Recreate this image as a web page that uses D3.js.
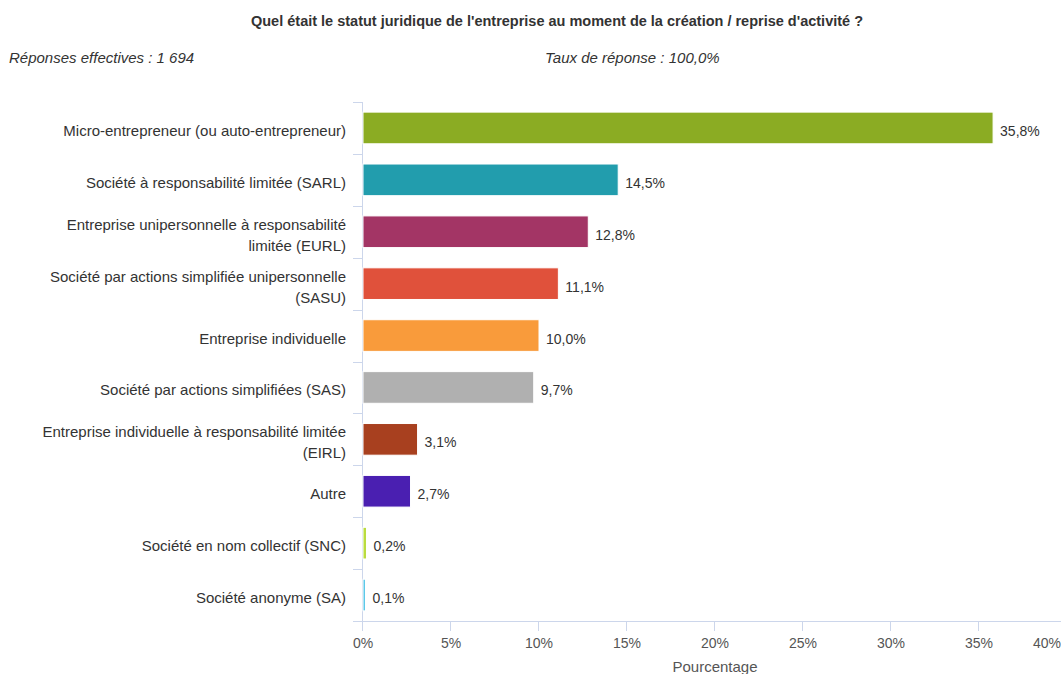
<!DOCTYPE html>
<html>
<head>
<meta charset="utf-8">
<script src="https://cdn.jsdelivr.net/npm/d3@7"></script>
<style>
  body { margin: 0; background: #fff; font-family: "Liberation Sans", Arial, sans-serif; }
  svg text { fill: #333; }
</style>
</head>
<body>
<div id="chart"></div>
<script>
// categories, values (%) and bar colours
var categories = [
  "Micro-entrepreneur (ou auto-entrepreneur)",
  "Société à responsabilité limitée (SARL)",
  "Entreprise unipersonnelle à responsabilité|limitée (EURL)",
  "Société par actions simplifiée unipersonnelle|(SASU)",
  "Entreprise individuelle",
  "Société par actions simplifiées (SAS)",
  "Entreprise individuelle à responsabilité limitée|(EIRL)",
  "Autre",
  "Société en nom collectif (SNC)",
  "Société anonyme (SA)"
];
var values = [35.8, 14.5, 12.8, 11.1, 10.0, 9.7, 3.1, 2.7, 0.2, 0.1];
var colors = ["#8bac23", "#229dad", "#a33565", "#e0513b", "#f99b3b",
              "#b0b0b0", "#a8401f", "#4a1fb1", "#badc3f", "#5cc9e9"];
var xTicks = [0, 5, 10, 15, 20, 25, 30, 35, 40];

var width = 1061,
    height = 674;
var margin = {top: 102, right: -6, bottom: 53, left: 363};

var svg = d3.select("#chart").append("svg")
    .attr("width", width)
    .attr("height", height);

//title and subtitles
svg.append("text")
    .attr("x", 557).attr("y", 26)
    .attr("text-anchor", "middle")
    .style("font-size", "14.5px").style("font-weight", "bold")
    .text("Quel était le statut juridique de l'entreprise au moment de la création / reprise d'activité ?");
svg.append("text")
    .attr("x", 9).attr("y", 63)
    .style("font-size", "15px").style("font-style", "italic")
    .text("Réponses effectives : 1 694");
svg.append("text")
    .attr("x", 545).attr("y", 63)
    .style("font-size", "15px").style("font-style", "italic")
    .text("Taux de réponse : 100,0%");

var x = d3.scaleLinear()
    .domain([0, 40])
    .range([margin.left, width - margin.right]);

var y = d3.scaleBand()
    .domain(categories)
    .range([margin.top, height - margin.bottom])
    .paddingInner(0.39)
    .paddingOuter(0.195);

var axisColor = "#ccd6eb";
var plotBottom = height - margin.bottom;

//y axis line + band ticks
svg.append("line")
    .attr("x1", margin.left - 0.5).attr("x2", margin.left - 0.5)
    .attr("y1", margin.top).attr("y2", plotBottom)
    .attr("stroke", axisColor);
var step = (plotBottom - margin.top) / categories.length;
svg.selectAll(".ytick")
    .data(d3.range(categories.length + 1))
    .enter().append("line")
    .attr("x1", margin.left - 10).attr("x2", margin.left)
    .attr("y1", function(d){ return Math.round(margin.top + d * step) + 0.5; })
    .attr("y2", function(d){ return Math.round(margin.top + d * step) + 0.5; })
    .attr("stroke", axisColor);

//x axis line + ticks
svg.append("line")
    .attr("x1", margin.left - 10).attr("x2", width)
    .attr("y1", plotBottom + 0.5).attr("y2", plotBottom + 0.5)
    .attr("stroke", axisColor);
svg.selectAll(".xtick")
    .data(xTicks)
    .enter().append("line")
    .attr("x1", function(d){ return Math.round(x(d)) - 0.5; })
    .attr("x2", function(d){ return Math.round(x(d)) - 0.5; })
    .attr("y1", plotBottom).attr("y2", plotBottom + 10)
    .attr("stroke", axisColor);
svg.selectAll(".xlabel")
    .data(xTicks)
    .enter().append("text")
    .attr("x", function(d){ return d === 40 ? width - 14 : x(d); })
    .attr("y", plotBottom + 27)
    .attr("text-anchor", "middle")
    .style("font-size", "14px")
    .style("fill", "#555")
    .text(function(d){ return d + "%"; });

svg.append("text")
    .attr("x", 715).attr("y", plotBottom + 51)
    .attr("text-anchor", "middle")
    .style("font-size", "15px")
    .style("fill", "#555")
    .text("Pourcentage");

//bars
svg.selectAll(".bar")
    .data(values)
    .enter().append("rect")
    .attr("x", x(0))
    .attr("y", function(d, i){ return y(categories[i]); })
    .attr("width", function(d){ return Math.max(x(d) - x(0), 2.5); })
    .attr("height", y.bandwidth())
    .attr("fill", function(d, i){ return colors[i]; })
    .attr("stroke", "#fff")
    .attr("stroke-width", 1);

//value labels
svg.selectAll(".val")
    .data(values)
    .enter().append("text")
    .attr("x", function(d){ return Math.max(x(d), x(0) + 2.5) + 7; })
    .attr("y", function(d, i){ return y(categories[i]) + y.bandwidth() / 2 + 8; })
    .style("font-size", "14px")
    .text(function(d){ return d.toFixed(1).replace(".", ",") + "%"; });

//category labels (| = line break)
var labels = svg.selectAll(".cat")
    .data(categories)
    .enter().append("text")
    .attr("text-anchor", "end")
    .style("font-size", "15px")
    .attr("transform", function(d){
        var cy = y(d) + y.bandwidth() / 2;
        var n = d.split("|").length;
        return "translate(" + (margin.left - 17) + "," + (n > 1 ? cy - 2 : cy + 8) + ")";
    });
labels.selectAll("tspan")
    .data(function(d){ return d.split("|"); })
    .enter().append("tspan")
    .attr("x", 0)
    .attr("dy", function(d, i){ return i === 0 ? 0 : 21; })
    .text(function(d){ return d; });
</script>
</body>
</html>
